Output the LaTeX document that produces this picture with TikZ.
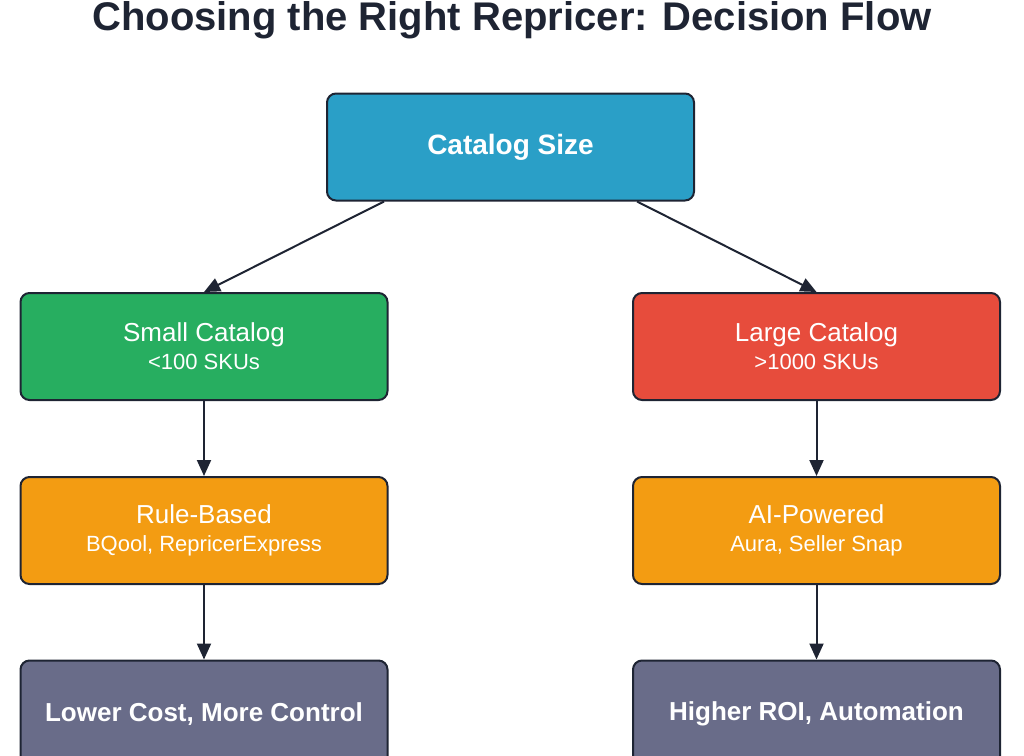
\documentclass[tikz,border=0pt]{standalone}
\usepackage{fontspec}
\setmainfont{Liberation Sans}
\usetikzlibrary{positioning,arrows.meta}
\definecolor{topblue}{HTML}{2A9FC7}
\definecolor{smallgreen}{HTML}{27AE60}
\definecolor{largered}{HTML}{E74C3C}
\definecolor{toolorange}{HTML}{F39C12}
\definecolor{resultgray}{HTML}{696C89}
\definecolor{edgedark}{HTML}{1E2433}
\tikzset{
  flowbox/.style={draw=edgedark, line width=2pt, rounded corners=9pt,
    minimum width=367pt, minimum height=107pt, text=white, align=center,
    font=\fontsize{26}{32}\selectfont},
  flowarrow/.style={draw=edgedark, line width=2pt, -{Triangle[length=16pt,width=14pt]}}
}
\begin{document}
\begin{tikzpicture}[x=1pt,y=-1pt]
  \useasboundingbox (0,0) rectangle (1024,755);
  \node[font=\fontsize{40}{46}\selectfont\bfseries, text=edgedark] (title) at (512,20) {Choosing the Right Repricer: Decision Flow};

  \node[flowbox, fill=topblue, font=\fontsize{28}{34}\selectfont\bfseries] (size) at (510.5,147) {Catalog Size};
  \node[flowbox, fill=smallgreen] (small) at (204,346.5) {Small Catalog\\[-4pt]{\fontsize{22}{26}\selectfont <100 SKUs}};
  \node[flowbox, fill=largered] (large) at (816.5,346.5) {Large Catalog\\[-4pt]{\fontsize{22}{26}\selectfont >1000 SKUs}};
  \node[flowbox, fill=toolorange] (rule) at (204,530.5) {Rule-Based\\[-4pt]{\fontsize{22}{26}\selectfont BQool, RepricerExpress}};
  \node[flowbox, fill=toolorange] (ai) at (816.5,530.5) {AI-Powered\\[-4pt]{\fontsize{22}{26}\selectfont Aura, Seller Snap}};
  \node[flowbox, fill=resultgray, font=\fontsize{26}{32}\selectfont\bfseries] (cost) at (204,714) {Lower Cost, More Control};
  \node[flowbox, fill=resultgray, font=\fontsize{26}{32}\selectfont\bfseries] (roi) at (816.5,714) {Higher ROI, Automation};

  \draw[flowarrow] (size.south west) ++(58,0) -- (small.north);
  \draw[flowarrow] (size.south east) ++(-58,0) -- (large.north);
  \draw[flowarrow] (small) -- (rule);
  \draw[flowarrow] (large) -- (ai);
  \draw[flowarrow] (rule) -- (cost);
  \draw[flowarrow] (ai) -- (roi);
\end{tikzpicture}
\end{document}
